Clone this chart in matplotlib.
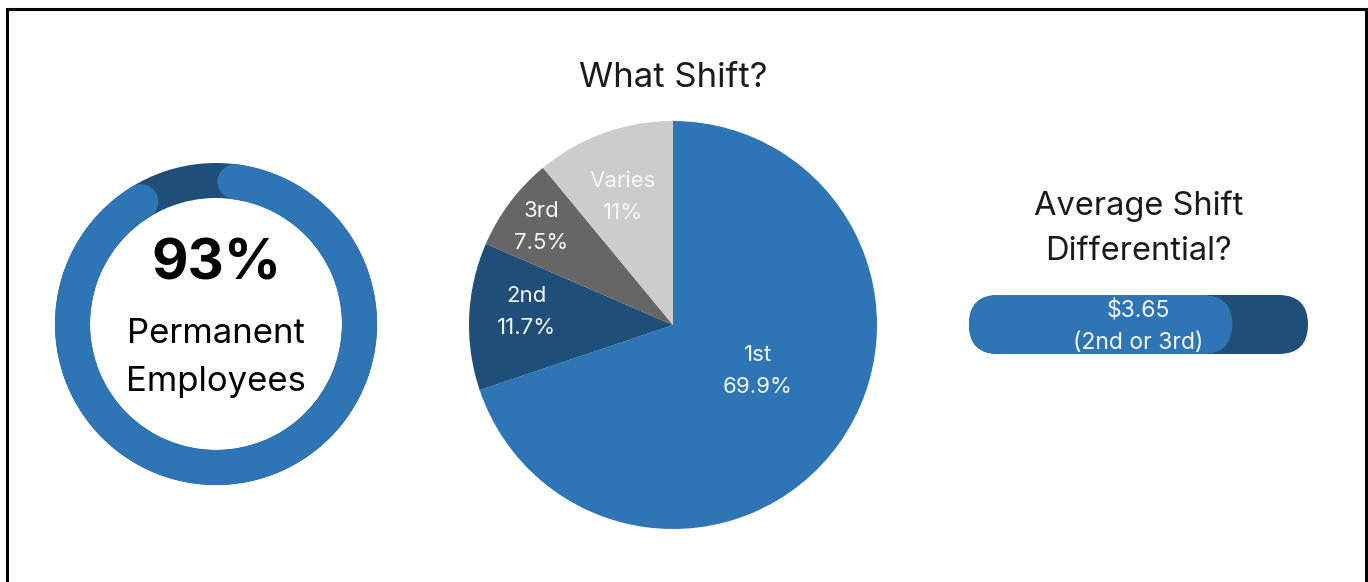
import numpy as np
import matplotlib.pyplot as plt
from matplotlib.patches import Wedge, Circle, FancyBboxPatch, Rectangle

plt.rcParams['font.family'] = ['Inter', 'DejaVu Sans']

BLUE = '#2e75b6'
NAVY = '#1f4e79'
INK = '#1a1a1a'

# share of permanent employees
permanent_pct = 93
permanent_text = 'Permanent\nEmployees'

# which shift people work
shift_title = 'What Shift?'
shift_labels = ['1st', '2nd', '3rd', 'Varies']
shift_pcts = [69.9, 11.7, 7.5, 11]
shift_colors = [BLUE, NAVY, '#666666', '#cccccc']

# average shift differential
diff_title = 'Average Shift\nDifferential?'
diff_value = 3.65
diff_scale_max = 4.7
diff_note = '(2nd or 3rd)'

W, H = 1368, 582


def flip(v):
    # rows counted from the top -> data y
    return H - v


fig = plt.figure(figsize=(W / 100, H / 100), dpi=100)
ax = fig.add_axes([0, 0, 1, 1])

# ---- donut ----
cx, cy = 216, flip(324)
r_out, ring = 161, 35
r_mid = r_out - ring / 2
ax.add_patch(Wedge((cx, cy), r_out, 0, 360, width=ring, color=NAVY, lw=0))

cap = np.degrees((ring / 2) / r_mid)
gap = 360 * (1 - permanent_pct / 100)
gap_mid = 102
a1 = gap_mid + gap / 2 + cap
a2 = gap_mid - gap / 2 - cap + 360
ax.add_patch(Wedge((cx, cy), r_out, a1, a2, width=ring, color=BLUE, lw=0))
for a in (a1, a2):
    t = np.radians(a)
    ax.add_patch(Circle((cx + r_mid * np.cos(t), cy + r_mid * np.sin(t)),
                        ring / 2, color=BLUE, lw=0))

ax.text(cx, flip(280), f'{permanent_pct}%', ha='center', va='baseline',
        fontsize=40.5, fontweight='bold', color='black')
lines = permanent_text.split('\n')
for i, line in enumerate(lines):
    ax.text(cx, flip(343 + 48 * i), line, ha='center', va='baseline',
            fontsize=25, color='black')

# ---- pie ----
pc = (673, flip(325))
pr = 204
wedges, _ = ax.pie(shift_pcts, colors=shift_colors, startangle=90,
                   counterclock=False, radius=pr, center=pc,
                   wedgeprops=dict(linewidth=0))
label_dist = [0.47, 0.72, 0.81, 0.68]
label_nudge = [8, -3, 0, 1.5]
for w, lab, pct, d, n in zip(wedges, shift_labels, shift_pcts, label_dist, label_nudge):
    t = np.radians((w.theta1 + w.theta2) / 2 + n)
    ax.text(pc[0] + d * pr * np.cos(t), pc[1] + d * pr * np.sin(t) - 1,
            f'{lab}\n{pct:g}%', ha='center', va='center', color='#f7f7f7',
            fontsize=16, linespacing=1.75)

ax.text(pc[0], flip(78), shift_title, ha='center', va='center',
        fontsize=25, color=INK)

# ---- shift differential bar ----
bx0, bx1 = 969, 1308
bh = 59
bcy = flip(324.5)
ax.add_patch(FancyBboxPatch((bx0, bcy - bh / 2), bx1 - bx0, bh,
                            boxstyle=f'round,pad=0,rounding_size={bh / 2}',
                            fc=NAVY, lw=0))
fill_w = (bx1 - bx0) * diff_value / diff_scale_max
ax.add_patch(FancyBboxPatch((bx0, bcy - bh / 2), fill_w, bh,
                            boxstyle=f'round,pad=0,rounding_size={bh / 2}',
                            fc=BLUE, lw=0))
ax.text((bx0 + bx1) / 2, bcy - 2, f'${diff_value:.2f}\n{diff_note}',
        ha='center', va='center', color='#f7f7f7', fontsize=16.5,
        linespacing=1.65)

ax.text((bx0 + bx1) / 2, flip(229), diff_title, ha='center', va='center',
        fontsize=23.5, color=INK, linespacing=1.6)

# frame around the panel (bottom edge runs off the canvas)
ax.add_patch(Rectangle((7, -20), 1359, flip(9) + 20, fill=False,
                       ec='black', lw=2.2))

ax.set_xlim(0, W)
ax.set_ylim(0, H)
ax.set_aspect('equal')
ax.axis('off')

fig.savefig('out.png', dpi=100)
